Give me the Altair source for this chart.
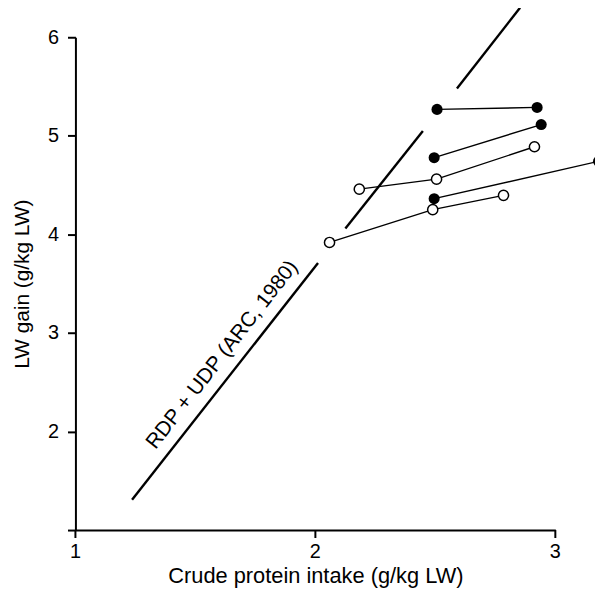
import altair as alt
import pandas as pd

# Experimental series (crude protein intake, LW gain)
series_names = ["A", "B", "C", "D", "E"]
series_filled = [True, True, True, False, False]
series_x = [
    [2.507, 2.924],
    [2.495, 2.941],
    [2.495, 3.18],
    [2.183, 2.505, 2.913],
    [2.059, 2.489, 2.784],
]
series_y = [
    [5.268, 5.288],
    [4.778, 5.114],
    [4.362, 4.741],
    [4.459, 4.56, 4.889],
    [3.918, 4.251, 4.396],
]

# ARC (1980) RDP + UDP requirement line, drawn in three pieces
arc_x = [1.236, 2.011, 2.125, 2.448, 2.590, 2.853]
arc_y = [1.307, 3.71, 4.06, 5.05, 5.48, 6.30]
arc_seg = [1, 1, 2, 2, 3, 3]

label_text = ["RDP + UDP (ARC, 1980)"]
label_x = [1.612]
label_y = [2.778]

x_ticks = [1, 2, 3]
x_tick_labels = ["1", "2", "3"]
y_ticks = [1, 2, 3, 4, 5, 6]

rows = []
for name, filled, xs, ys in zip(series_names, series_filled, series_x, series_y):
    for i, (xv, yv) in enumerate(zip(xs, ys)):
        rows.append({"series": name, "filled": filled, "x": xv, "y": yv, "order": i})
pts = pd.DataFrame(rows)
arc = pd.DataFrame({"x": arc_x, "y": arc_y, "seg": arc_seg})
lab = pd.DataFrame({"text": label_text, "x": label_x, "y": label_y})
xt = pd.DataFrame({"x": x_ticks, "label": x_tick_labels})

FONT = "Liberation Sans"
H = 497

xscale = alt.Scale(domain=[1, 3], nice=False, zero=False)
yscale = alt.Scale(domain=[1, 6], nice=False, zero=False)

xenc = alt.X("x:Q", scale=xscale,
             axis=alt.Axis(ticks=False, labels=False,
                           title="Crude protein intake (g/kg LW)",
                           titleFontSize=22, titlePadding=36))
yenc = alt.Y("y:Q", scale=yscale,
             axis=alt.Axis(values=y_ticks, tickCount=20,
                           title="LW gain (g/kg LW)", format="d",
                           labelExpr="datum.value == 1 ? '' : datum.label",
                           labelOverlap=False, labelFlush=False,
                           labelPadding=9, titlePadding=15))

arc_layer = alt.Chart(arc).mark_line(color="black", strokeWidth=2.4).encode(
    x=xenc, y=yenc, detail="seg:N")

xtick_rules = alt.Chart(xt).mark_rule(color="black", strokeWidth=2).encode(
    x="x:Q", y=alt.value(H), y2=alt.value(H + 8))
xtick_text = alt.Chart(xt).mark_text(font=FONT, fontSize=20, baseline="top",
                                     color="black").encode(
    x="x:Q", y=alt.value(H + 12), text="label:N")

conn = alt.Chart(pts).mark_line(color="black", strokeWidth=1.4).encode(
    x="x:Q", y="y:Q", detail="series:N", order="order:Q")

filled_pts = alt.Chart(pts).transform_filter("datum.filled").mark_circle(
    color="black", size=125, opacity=1).encode(x="x:Q", y="y:Q")

open_pts = alt.Chart(pts).transform_filter("!datum.filled").mark_circle(
    fill="white", stroke="black", strokeWidth=1.5, size=105, opacity=1).encode(x="x:Q", y="y:Q")

label = alt.Chart(lab).mark_text(font=FONT, fontSize=21, angle=308, color="black").encode(
    x="x:Q", y="y:Q", text="text:N")

chart = alt.layer(arc_layer, xtick_rules, xtick_text, conn, open_pts, filled_pts, label).properties(
    width=484, height=H,
    autosize=alt.AutoSizeParams(type="none"),
    padding={"left": 68, "top": 27, "right": 40, "bottom": 64},
).configure_view(stroke=None).configure_axis(
    grid=False, domainColor="black", domainWidth=2, tickColor="black", tickWidth=2,
    tickSize=8, labelFont=FONT, labelFontSize=20, labelColor="black",
    titleFont=FONT, titleFontSize=21, titleFontWeight="normal", titleColor="black",
)

chart.save("out.html", embed_options={"renderer": "svg", "actions": False})
